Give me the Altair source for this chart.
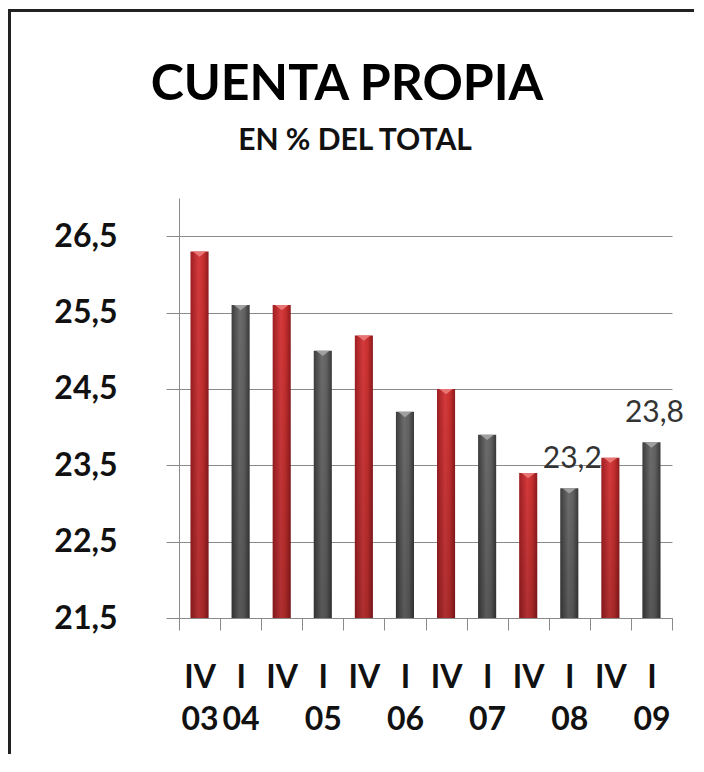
import altair as alt
import pandas as pd

# ---- data ----
quarters = ["IV", "I", "IV", "I", "IV", "I", "IV", "I", "IV", "I", "IV", "I"]
years = ["03", "04", "04", "05", "05", "06", "06", "07", "07", "08", "08", "09"]
values = [26.3, 25.6, 25.6, 25.0, 25.2, 24.2, 24.5, 23.9, 23.4, 23.2, 23.6, 23.8]
value_labels = ["", "", "", "", "", "", "", "", "", "23,2", "", "23,8"]
y_ticks = [21.5, 22.5, 23.5, 24.5, 25.5, 26.5]
y_domain = [21.5, 27.0]
title_text = "CUENTA PROPIA"
subtitle_text = "EN % DEL TOTAL"

periods = [f"{q} {y}" for q, y in zip(quarters, years)]
df = pd.DataFrame({
    "period": periods,
    "quarter": quarters,
    "value": values,
    "label": value_labels,
})

FONT = "Lato"
W, H = 493, 420
PAD_R = 22

red_grad = alt.LinearGradient(
    gradient="linear", x1=0, x2=1, y1=0, y2=0,
    stops=[alt.GradientStop(color="#9E1E22", offset=0),
           alt.GradientStop(color="#D53A3C", offset=0.45),
           alt.GradientStop(color="#C8302F", offset=0.7),
           alt.GradientStop(color="#8E1A1E", offset=1)])
gray_grad = alt.LinearGradient(
    gradient="linear", x1=0, x2=1, y1=0, y2=0,
    stops=[alt.GradientStop(color="#3C3C3C", offset=0),
           alt.GradientStop(color="#6C6C6C", offset=0.45),
           alt.GradientStop(color="#626262", offset=0.7),
           alt.GradientStop(color="#383838", offset=1)])
shade_grad = alt.LinearGradient(
    gradient="linear", x1=0, x2=0, y1=0, y2=1,
    stops=[alt.GradientStop(color="rgba(0,0,0,0)", offset=0),
           alt.GradientStop(color="rgba(0,0,0,0.18)", offset=1)])

x_enc = alt.X(
    "period:N", sort=periods, title=None,
    scale=alt.Scale(paddingInner=0, paddingOuter=0),
    axis=alt.Axis(
        labelAngle=0, labelFont=FONT, labelFontWeight="bold", labelFontSize=32,
        labelColor="#111", labelBaseline="top", labelLineHeight=42, labelPadding=32,
        labelExpr="[split(datum.label, ' ')[0], (split(datum.label, ' ')[0] == 'I' || datum.index == 0) ? split(datum.label, ' ')[1] : '']",
        tickBand="extent", tickSize=12, tickColor="#8a8a8a", domainColor="#8a8a8a",
        labelOverlap=False, grid=False,
    ),
)
y_enc = alt.Y(
    "value:Q", title=None,
    scale=alt.Scale(domain=y_domain, zero=False, nice=False),
    axis=alt.Axis(
        values=y_ticks, labelExpr="replace(format(datum.value, '.1f'), '.', ',')",
        labelFont=FONT, labelFontWeight="bold", labelFontSize=32, labelColor="#111",
        labelPadding=49, tickSize=13, tickColor="#8a8a8a", domainColor="#8a8a8a",
        grid=True, gridColor="#8a8a8a", gridWidth=1,
    ),
)

base = alt.Chart(df)

red_bars = base.transform_filter("datum.quarter == 'IV'").mark_bar(
    width=alt.RelativeBandSize(0.44), color=red_grad
).encode(x=x_enc, y=y_enc, y2=alt.datum(21.5))
gray_bars = base.transform_filter("datum.quarter == 'I'").mark_bar(
    width=alt.RelativeBandSize(0.44), color=gray_grad
).encode(x=x_enc, y=y_enc, y2=alt.datum(21.5))
shade = base.mark_bar(
    width=alt.RelativeBandSize(0.44), color=shade_grad
).encode(x=x_enc, y=y_enc, y2=alt.datum(21.5))

caps = base.mark_point(
    shape="M-1,0L1,0L0,0.8Z", filled=True, size=180, opacity=1
).encode(
    x=x_enc, y=y_enc,
    color=alt.condition("datum.quarter == 'IV'", alt.value("#E87474"), alt.value("#A0A0A0")),
)

labels = base.mark_text(
    font=FONT, fontSize=30, color="#333", baseline="alphabetic", dy=-20, dx=3
).encode(x=x_enc, y=y_enc, text="label:N")

one = alt.Chart(alt.Data(values=[{}]))
title_mark = one.mark_text(
    font=FONT, fontSize=50, fontWeight="bold", color="#000",
    align="center", baseline="alphabetic"
).encode(x=alt.value(168), y=alt.value(-98), text=alt.value(title_text))
subtitle_mark = one.mark_text(
    font=FONT, fontSize=30, fontWeight="bold", color="#111",
    align="center", baseline="alphabetic"
).encode(x=alt.value(176), y=alt.value(-48), text=alt.value(subtitle_text))

left_border = one.mark_rule(color="#222", strokeWidth=3).encode(
    x=alt.value(-169.5), y=alt.value(-189), y2=alt.value(H + 150))
top_border = one.mark_rule(color="#222", strokeWidth=3).encode(
    x=alt.value(-171), x2=alt.value(W + PAD_R), y=alt.value(-187.5))

chart = alt.layer(
    red_bars, gray_bars, shade, caps, labels,
    title_mark, subtitle_mark, left_border, top_border
).properties(
    width=W, height=H,
    autosize=alt.AutoSizeParams(type="none"),
    padding={"left": 171, "top": 190, "right": PAD_R, "bottom": 136},
).configure(background="white").configure_view(strokeWidth=0)

chart.save("out.html", embed_options={"renderer": "svg", "actions": False})
